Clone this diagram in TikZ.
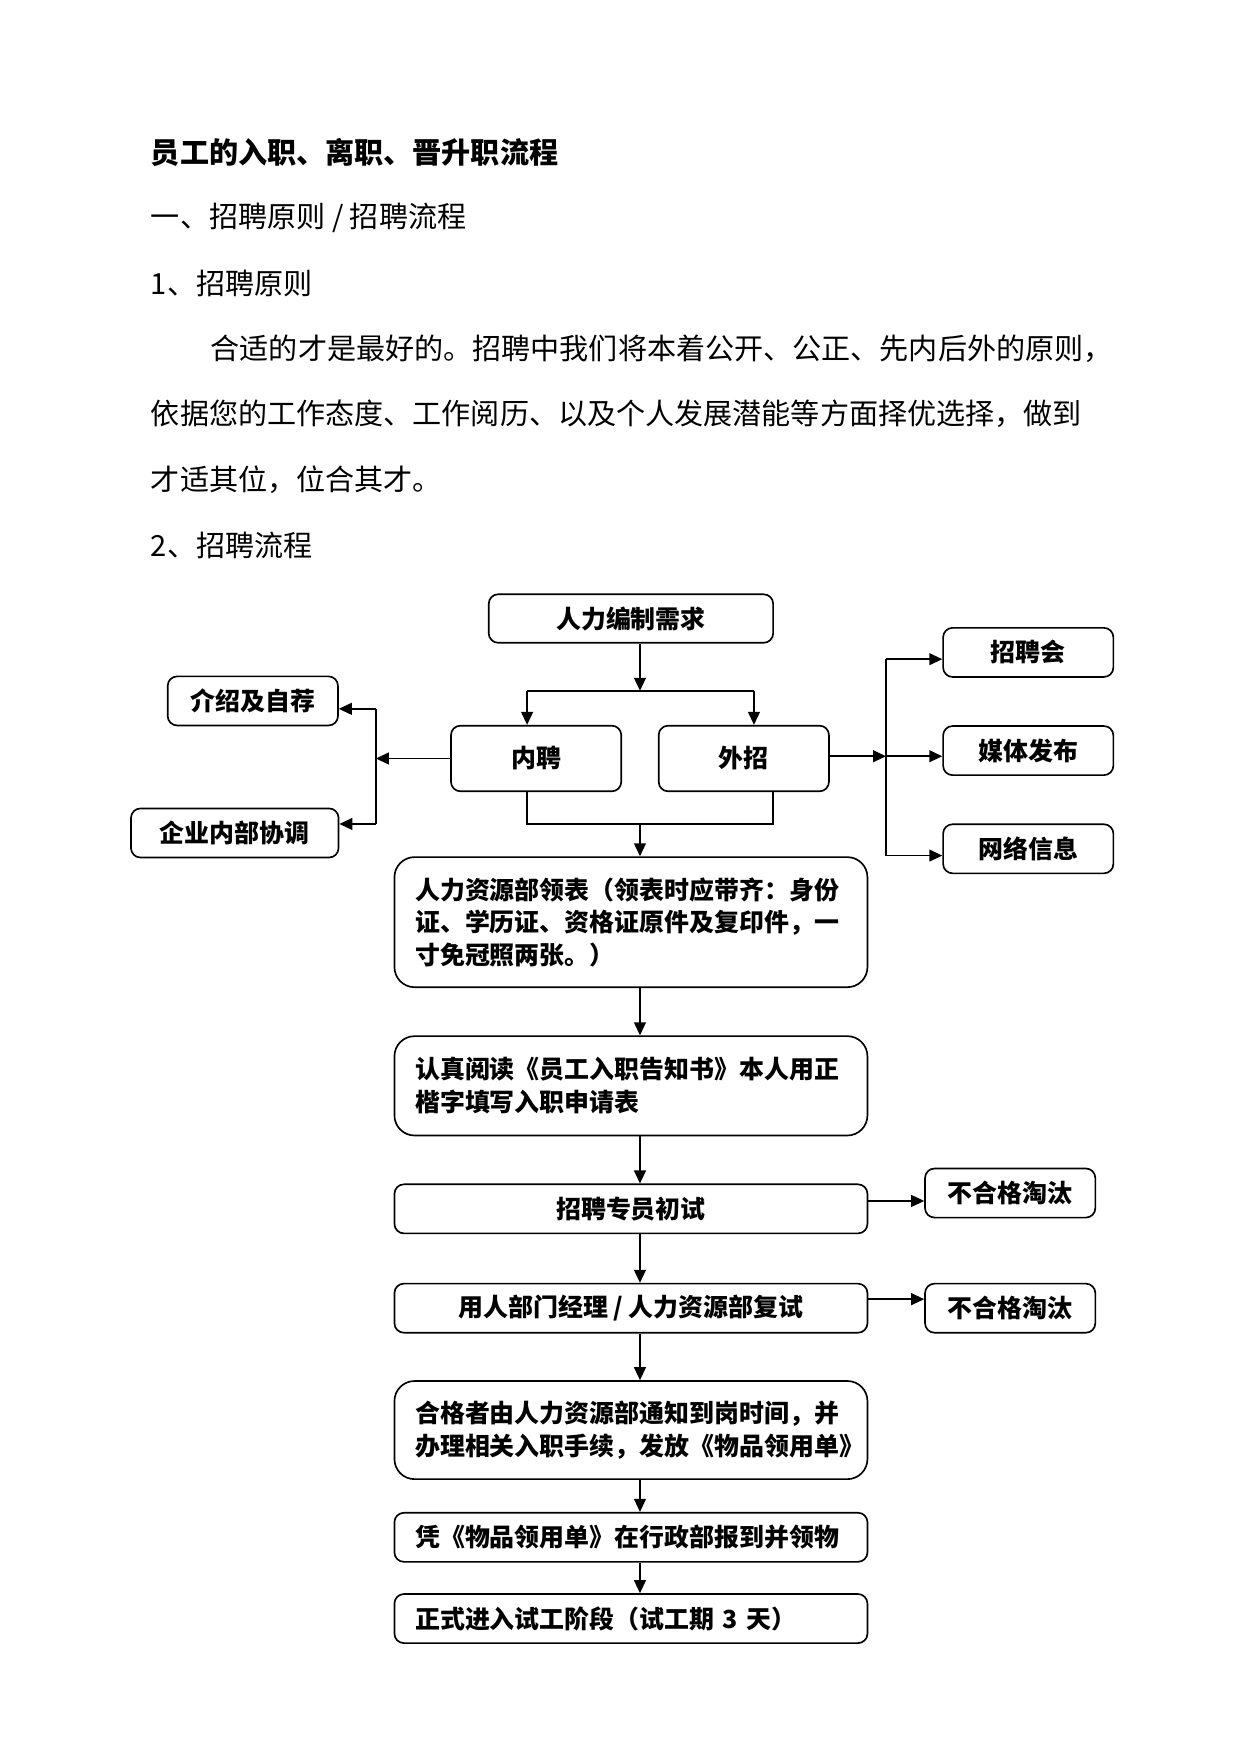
\documentclass[tikz,border=0pt]{standalone}
\usepackage{fontspec}
\setmainfont{Noto Sans CJK SC}
\usetikzlibrary{arrows.meta}
\tikzset{%
  >={Triangle[width=2mm,length=2.2mm]},
  % Specifications for style of nodes:
         base/.style = {rectangle, rounded corners=1.6mm, draw=black,
                        line width=0.8pt, inner sep=0pt,
                        font=\fontsize{12}{15.7}\selectfont\bfseries},
        small/.style = {base, minimum width=28.8mm, minimum height=8.3mm,
                        text centered},
         wide/.style = {base, minimum width=80mm, minimum height=8.3mm,
                        text centered},
        widel/.style = {base, minimum height=8.3mm, text width=73mm,
                        inner xsep=3.5mm, align=left},
         tall/.style = {base, rounded corners=3.4mm, text width=73mm,
                        inner xsep=3.5mm, align=left},
      heading/.style = {anchor=west, inner sep=0pt,
                        font=\fontsize{14}{14}\selectfont}
}
\begin{document}
\begin{tikzpicture}[x=0.1909mm, y=-0.1909mm, line width=0.8pt]
  \fill[white] (0,0) rectangle (1100,1554);
  \useasboundingbox (0,0) rectangle (1100,1554);
  % Text above the chart
  \node (title) [heading, font=\fontsize{14}{14}\selectfont\bfseries] at (133,135) {员工的入职、离职、晋升职流程};
  \node (sec)   [heading] at (133,193) {一、招聘原则 / 招聘流程};
  \node (rule)  [heading] at (133,251) {1、招聘原则};
  \node (parA)  [heading] at (186,309) {合适的才是最好的。招聘中我们将本着公开、公正、先内后外的原则，};
  \node (parB)  [heading] at (133,367) {依据您的工作态度、工作阅历、以及个人发展潜能等方面择优选择，做到};
  \node (parC)  [heading] at (133,425) {才适其位，位合其才。};
  \node (flow)  [heading] at (133,483) {2、招聘流程};

  % Specification of nodes (position, etc.)
  \node (need)   [base, minimum width=48.1mm, minimum height=8.2mm] at (559,548) {人力编制需求};
  \node (inner)  [small, minimum height=11.1mm] at (475,672) {内聘};
  \node (outer)  [small, minimum height=11.1mm] at (659,672) {外招};
  \node (intro)  [small] at (224,621) {介绍及自荐};
  \node (coord)  [small, minimum width=35.1mm] at (208,738) {企业内部协调};
  \node (fair)   [small] at (911,578) {招聘会};
  \node (media)  [small] at (911,665) {媒体发布};
  \node (web)    [small] at (911,752) {网络信息};

  \node (form)   [tall, minimum height=22mm] at (559,817) {人力资源部领表（领表时应带齐：身份\\证、学历证、资格证原件及复印件，一\\寸免冠照两张。）};
  \node (read)   [tall, minimum height=16.8mm] at (559,962) {认真阅读《员工入职告知书》本人用正\\楷字填写入职申请表};
  \node (first)  [wide] at (559,1071) {招聘专员初试};
  \node (failA)  [small] at (895,1057) {不合格淘汰};
  \node (second) [wide] at (559,1159) {用人部门经理 / 人力资源部复试};
  \node (failB)  [small] at (895,1159) {不合格淘汰};
  \node (notify) [tall, minimum height=16.6mm] at (559,1267) {合格者由人力资源部通知到岗时间，并\\办理相关入职手续，发放《物品领用单》};
  \node (goods)  [widel] at (559,1362) {凭《物品领用单》在行政部报到并领物};
  \node (trial)  [widel] at (559,1434) {正式进入试工阶段（试工期 3 天）};

  % Junction points
  \coordinate (split)  at (567,612);
  \coordinate (splitL) at (467,612);
  \coordinate (splitR) at (668,612);
  \coordinate (lbus)   at (333,672);
  \coordinate (ltop)   at (333,628);
  \coordinate (lbot)   at (333,730);
  \coordinate (rbus)   at (785,670);
  \coordinate (rtop)   at (785,584);
  \coordinate (rbot)   at (785,758);
  \coordinate (mergeL) at (467,730);
  \coordinate (mergeR) at (685,730);
  \coordinate (merge)  at (567,730);
  \coordinate (rejA)   at (769,1064);
  \coordinate (rejB)   at (769,1151);

  \draw[->] (need.south -| split) -- (split);
  \draw (splitL) -- (splitR);
  \draw[->] (splitL) -- (splitL |- inner.north);
  \draw[->] (splitR) -- (splitR |- outer.north);

  \draw[->] (inner.west) -- (lbus);
  \draw (ltop) -- (lbot);
  \draw[->] (ltop) -- (ltop -| intro.east);
  \draw[->] (lbot) -- (lbot -| coord.east);

  \draw[->] (outer.east |- rbus) -- (rbus);
  \draw[->] (rbus) -- (rbus -| media.west);
  \draw (rtop) -- (rbot);
  \draw[->] (rtop) -- (rtop -| fair.west);
  \draw[->] (rbot) -- (rbot -| web.west);

  \draw (mergeL |- inner.south) -- (mergeL) -- (mergeR) -- (mergeR |- outer.south);
  \draw[->] (merge) -- (merge |- form.north);

  \foreach \a/\b in {form/read, read/first, first/second,
                     second/notify, notify/goods, goods/trial}
    \draw[->] (\a.south -| merge) -- (\b.north -| merge);

  \draw[->] (rejA) -- (rejA -| failA.west);
  \draw[->] (rejB) -- (rejB -| failB.west);
\end{tikzpicture}
\end{document}
